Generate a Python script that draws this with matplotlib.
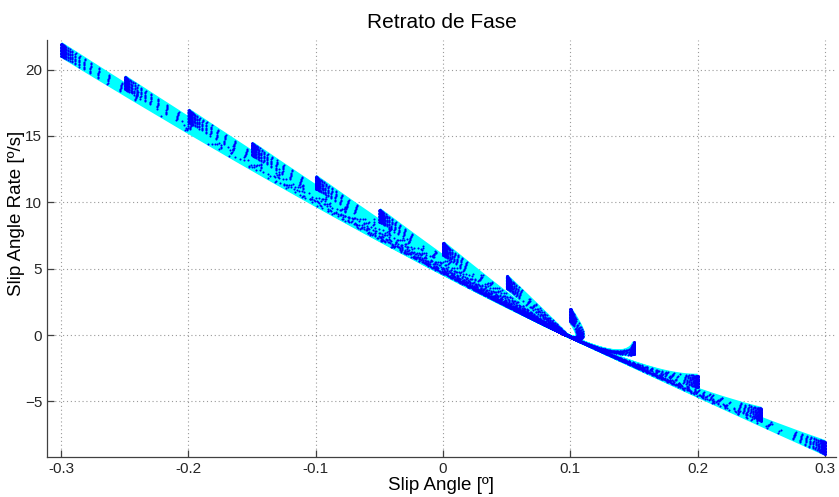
import numpy as np
import matplotlib
matplotlib.use("Agg")
import matplotlib.pyplot as plt

plt.rcParams['font.family'] = ['Liberation Sans', 'DejaVu Sans']

# Initial slip angles [deg] and the matching initial slip-angle rates [deg/s]
slip0 = [-0.30, -0.25, -0.20, -0.15, -0.10, -0.05, 0.00, 0.05, 0.10, 0.15, 0.20, 0.25, 0.30]
rate0 = [21.5, 19.0, 16.5, 14.0, 11.5, 9.0, 6.5, 4.0, 1.5, -1.0, -3.5, -6.0, -8.5]
# Spread of initial rates simulated around each starting point [deg/s]
rate_spread = [-0.45, -0.34, -0.22, -0.11, 0.0, 0.11, 0.22, 0.34, 0.45]

# Linearised lateral dynamics: steady-state slip angle and the two poles [1/s]
slip_eq = 0.097
pole_slow = -45.0
pole_fast = -90.0

x_ticks = [-0.3, -0.2, -0.1, 0.0, 0.1, 0.2, 0.3]
x_tick_labels = ['-0.3', '-0.2', '-0.1', '0', '0.1', '0.2', '0.3']
y_ticks = [-5, 0, 5, 10, 15, 20]


def output_times(k):
    """Solver-like output grid: tiny first steps, then a coarser step per run."""
    start = np.concatenate(([0.0], np.geomspace(1e-5, 0.003, 24)))
    step = 0.0012 * (1.0 + 0.7 * ((k * 5) % 9) / 8.0)
    later = np.arange(0.003 + step * ((k * 3) % 7) / 7.0 + step, 0.25, step)
    return np.concatenate((start, later))


def trajectory(b0, db0, t):
    """Closed-form response of the second-order slip dynamics."""
    u0 = b0 - slip_eq
    c2 = (db0 - pole_slow * u0) / (pole_fast - pole_slow)
    c1 = u0 - c2
    e1 = np.exp(pole_slow * t)
    e2 = np.exp(pole_fast * t)
    beta = slip_eq + c1 * e1 + c2 * e2
    dbeta = pole_slow * c1 * e1 + pole_fast * c2 * e2
    return beta, dbeta


fig = plt.figure(figsize=(8.39, 4.97), dpi=100)
ax = fig.add_axes([47 / 839, 1 - 457 / 497, (836 - 47) / 839, (457 - 40) / 497])

curves = []
k = 0
for b0, r0 in zip(slip0, rate0):
    for dr in rate_spread:
        t = output_times(k)
        curves.append(trajectory(b0, r0 + dr, t))
        k += 1

for beta, dbeta in curves:
    ax.plot(beta, dbeta, color='#00ffff', lw=2.6, zorder=2, solid_capstyle='butt')
for beta, dbeta in curves:
    ax.plot(beta, dbeta, ls='none', marker='.', ms=3.0, color='#0000ff',
            markeredgewidth=0, zorder=3)

ax.set_xlim(-0.311, 0.3086)
ax.set_ylim(-9.19, 22.23)
ax.set_xticks(x_ticks)
ax.set_xticklabels(x_tick_labels)
ax.set_yticks(y_ticks)

ax.grid(True, ls=(0, (1, 2.5)), color='#9a9a9a', lw=0.8)
ax.set_axisbelow(True)
for side in ('top', 'right'):
    ax.spines[side].set_visible(False)
for side in ('left', 'bottom'):
    ax.spines[side].set_color('#404040')
    ax.spines[side].set_linewidth(0.9)
ax.tick_params(direction='in', length=5, width=0.9, colors='#404040',
               labelcolor='#262626', labelsize=11)

ax.set_title('Retrato de Fase', fontsize=15, color='#000000', pad=9)
ax.set_xlabel('Slip Angle [º]', fontsize=13.5, labelpad=1)
ax.set_ylabel('Slip Angle Rate [º/s]', fontsize=13.5)
ax.yaxis.set_label_coords(-0.028, 0.585)

fig.savefig('out.png', dpi=100)
